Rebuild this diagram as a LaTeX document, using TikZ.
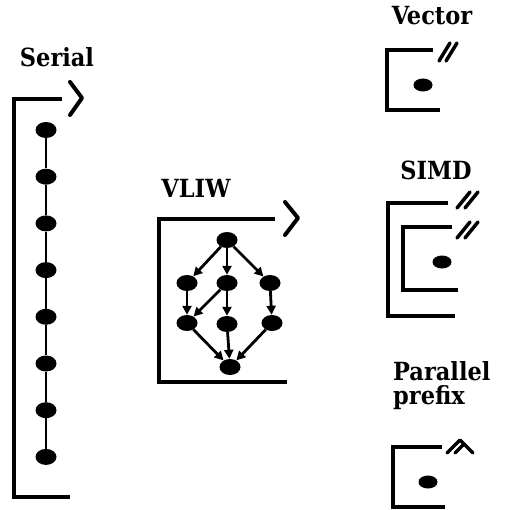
\documentclass[tikz,border=0pt]{standalone}
\usepackage{fontspec}
\newfontfamily\lblfont{DejaVu Serif Condensed}
\usetikzlibrary{shapes.geometric,arrows.meta}
\begin{document}
\begin{tikzpicture}[x=1pt,y=-1pt,
  blob/.style={ellipse,fill,inner sep=0pt,minimum width=21pt,minimum height=16pt},
  small blob/.style={blob,minimum width=19pt,minimum height=13pt},
  lbl/.style={anchor=base,inner sep=0pt,font=\lblfont\bfseries\fontsize{25}{24}\selectfont},
  frame/.style={line width=4pt},
  tick/.style={line width=3.5pt,line cap=round,line join=round},
  link/.style={line width=2.8pt,-{Triangle[length=9pt,width=9pt]}}]
\path[use as bounding box] (0,0) rectangle (507,510);

\node[lbl] (serial) at (57,67) {Serial};
\draw[frame] (62,99)--(14,99)--(14,497)--(70,497);
\draw[tick,line width=4pt] (70,82)--(82,98)--(70,115);
\foreach \i in {0,...,7} \node[blob] (s\i) at (46,{130+46.7*\i}) {};
\foreach \i [count=\j] in {0,...,6} \draw[line width=2.2pt] (s\i)--(s\j);

\node[lbl] (vliw) at (196,198) {VLIW};
\draw[frame] (275,219)--(159,219)--(159,382)--(287,382);
\draw[tick,line width=4pt] (285,202)--(298,218)--(285,235);
\node[blob] (vt) at (227,240) {};
\node[blob] (vl1) at (187,283) {};
\node[blob] (vm1) at (227,283) {};
\node[blob] (vr1) at (270,283) {};
\node[blob] (vl2) at (187,323) {};
\node[blob] (vm2) at (227,324) {};
\node[blob] (vr2) at (272,323) {};
\node[blob] (vz) at (230,367) {};
\foreach \a/\b in {vt/vl1,vt/vm1,vt/vr1,vl1/vl2,vm1/vl2,vm1/vm2,vr1/vr2,vl2/vz,vm2/vz,vr2/vz}
  \draw[link] (\a)--(\b);

\node[lbl] (vector) at (432,25) {Vector};
\draw[frame] (433,50)--(387,50)--(387,110)--(440,110);
\draw[tick] (439,61)--(450,43) (446,61)--(457,43);
\node[small blob] (vecop) at (423,85) {};

\node[lbl] (simd) at (436,180) {SIMD};
\draw[frame] (448,203)--(388,203)--(388,316)--(455,316);
\draw[frame] (452,227)--(403,227)--(403,290)--(458,290);
\draw[tick] (457,208)--(470,192) (465,208)--(478,192);
\draw[tick] (457,238)--(470,222) (465,238)--(478,222);
\node[small blob] (simdop) at (442,262) {};

\node[lbl,anchor=north west,align=left] (prefix) at (393,361) {Parallel\\prefix};
\draw[frame] (442,447)--(393,447)--(393,507)--(445,507);
\draw[tick] (447,453)--(460,440)--(473,453) (455,453)--(463,445);
\node[small blob] (prefop) at (428,482) {};
\end{tikzpicture}
\end{document}
